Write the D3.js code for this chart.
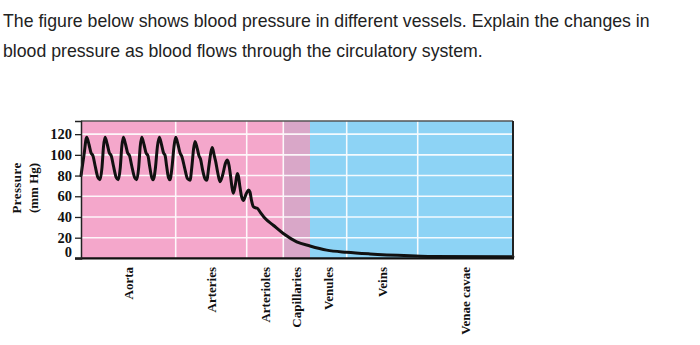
<!DOCTYPE html>
<html>
<head>
<meta charset="utf-8">
<script src="https://cdn.jsdelivr.net/npm/d3@7"></script>
<style>
  html, body { margin: 0; padding: 0; background: #fff; }
  svg { display: block; }
</style>
</head>
<body>
<svg id="chart" width="700" height="345"></svg>
<script>
// ---- Data ----
const titleLines = [
  "The figure below shows blood pressure in different vessels. Explain the changes in",
  "blood pressure as blood flows through the circulatory system."
];
const vessels = ["Aorta", "Arteries", "Arterioles", "Capillaries", "Venules", "Veins", "Venae cavae"];
// band boundaries along the path (arbitrary distance units)
const vesselStart = [0, 94.7, 165.7, 202.3, 229, 265.7, 336.7];
const vesselEnd   = [94.7, 165.7, 202.3, 229, 265.7, 336.7, 432];
const vesselGroup = ["arterial", "arterial", "arterial", "capillary", "venous", "venous", "venous"];
const yTicks = [0, 20, 40, 60, 80, 100, 120];
// pressure trace: [distance, mm Hg]
const pressure = [
  [0, 80], [3, 100], [5.7, 117], [8, 110], [10, 102], [12, 99], [14, 90], [17, 78], [19, 76],
  [21, 88], [22.5, 108], [24, 117], [26.3, 110], [28.3, 102], [30.3, 99], [32.3, 90], [35.3, 78], [37.3, 76],
  [39.3, 88], [40.8, 108], [42.3, 117], [44.6, 110], [46.6, 102], [48.6, 99], [50.6, 90], [53.7, 78], [55.7, 76],
  [57.7, 88], [59.2, 108], [60.7, 117], [63, 110], [65, 102], [67, 99], [68.5, 90], [70.8, 78], [72.3, 76],
  [74.5, 88], [76.4, 108], [78.3, 117], [80.5, 110], [82.5, 102], [84.2, 99], [85.5, 90], [87.5, 78], [89, 76],
  [91, 88], [93, 108], [94.7, 117], [97, 110], [99, 102], [101, 98], [103.5, 88], [106.5, 77], [109, 75.5],
  [111, 90], [112.5, 105], [114, 113], [116.3, 106], [118, 99], [119.5, 96], [121.5, 86], [124, 77], [125.7, 75.5],
  [128, 90], [129.8, 102], [131.3, 107], [133.3, 99], [134.8, 93], [136.5, 84], [139, 74],
  [141.5, 80], [144.5, 92], [146.3, 95], [148, 90], [149.5, 80], [150.8, 70], [152.3, 63],
  [154.5, 72], [156.3, 82], [157.3, 80], [158.8, 70], [160.5, 60], [162.3, 56],
  [165, 62], [167.5, 66], [169, 64], [170.5, 56], [172.3, 50], [174, 49], [176.3, 48.4],
  [179, 45], [184, 38.7], [192.3, 32], [202.3, 24], [215.7, 16], [229, 12], [245.7, 8],
  [265.7, 5.9], [289, 4.3], [329, 2.5], [350, 1.8], [432, 1.5]
];

// ---- Layout ----
const svg = d3.select("#chart");
const pLeft = 81, pRight = 513, pTop = 121, pBottom = 258.4;
const x = d3.scaleLinear().domain([0, 432]).range([pLeft, pRight]);
const y = d3.scaleLinear().domain([0, 132.7]).range([pBottom, pTop]);
const fill = { arterial: "#f4a7cb", capillary: "#d9a7c8", venous: "#8dd3f5" };

// title
svg.append("g").selectAll("text").data(titleLines).join("text")
  .attr("x", 3).attr("y", (d, i) => 27 + i * 29.5)
  .attr("font-family", "'Liberation Sans', Arial, sans-serif")
  .attr("font-size", 17.7).attr("fill", "#222")
  .text(d => d);

// bands
svg.append("g").selectAll("rect").data(vessels).join("rect")
  .attr("x", (d, i) => x(vesselStart[i]))
  .attr("width", (d, i) => x(vesselEnd[i]) - x(vesselStart[i]))
  .attr("y", pTop).attr("height", pBottom - pTop)
  .attr("fill", (d, i) => fill[vesselGroup[i]]);

// grid
const grid = svg.append("g").attr("stroke", "#fff").attr("stroke-width", 1.6).attr("opacity", 0.9);
grid.selectAll("line.h").data(yTicks.filter(v => v > 0)).join("line").attr("class", "h")
  .attr("x1", pLeft).attr("x2", pRight).attr("y1", d => y(d)).attr("y2", d => y(d));
grid.selectAll("line.v").data(vesselEnd.slice(0, -1).filter((d, i) => i !== 3)).join("line").attr("class", "v")
  .attr("y1", pTop).attr("y2", pBottom).attr("x1", d => x(d)).attr("x2", d => x(d));

// curve
const line = d3.line().x(d => x(d[0])).y(d => y(d[1])).curve(d3.curveMonotoneX);
svg.append("path").datum(pressure).attr("d", line)
  .attr("fill", "none").attr("stroke", "#111").attr("stroke-width", 3)
  .attr("stroke-linejoin", "round").attr("stroke-linecap", "round");

// frame
svg.append("line").attr("x1", pLeft).attr("x2", pRight).attr("y1", pTop).attr("y2", pTop)
  .attr("stroke", "#555").attr("stroke-width", 1.5);
svg.append("line").attr("x1", pRight).attr("x2", pRight).attr("y1", pTop).attr("y2", pBottom)
  .attr("stroke", "#222").attr("stroke-width", 2);
svg.append("line").attr("x1", 75).attr("x2", pRight + 1).attr("y1", pBottom).attr("y2", pBottom)
  .attr("stroke", "#111").attr("stroke-width", 2.2);

// y axis
const yAxis = svg.append("g").attr("transform", `translate(${pLeft},0)`)
  .call(d3.axisLeft(y).tickValues(yTicks).tickSize(6).tickPadding(3));
yAxis.select(".domain").attr("stroke", "#222").attr("stroke-width", 1.5);
yAxis.selectAll(".tick line").attr("stroke", "#222").attr("stroke-width", 1.3)
  .filter(d => d === 0).remove();
yAxis.selectAll(".tick text")
  .attr("font-family", "'Liberation Serif', 'Times New Roman', serif")
  .attr("font-weight", "bold").attr("font-size", 14.5).attr("fill", "#111")
  .attr("dy", d => d === 0 ? "-0.1em" : "0.32em");

// y title
const yt = svg.append("g").attr("font-family", "'Liberation Serif', 'Times New Roman', serif")
  .attr("font-weight", "bold").attr("font-size", 13).attr("fill", "#111").attr("text-anchor", "middle");
yt.append("text").attr("transform", "translate(21,188) rotate(-90)").attr("letter-spacing", 0.4).text("Pressure");
yt.append("text").attr("transform", "translate(37.5,188) rotate(-90)").text("(mm Hg)");

// category labels
svg.append("g").selectAll("text").data(vessels).join("text")
  .attr("transform", (d, i) => `translate(${x((vesselStart[i] + vesselEnd[i]) / 2) + 4.5},267) rotate(-90)`)
  .attr("text-anchor", "end")
  .attr("font-family", "'Liberation Serif', 'Times New Roman', serif")
  .attr("font-weight", "bold").attr("font-size", 13).attr("fill", "#111")
  .text(d => d);
</script>
</body>
</html>
